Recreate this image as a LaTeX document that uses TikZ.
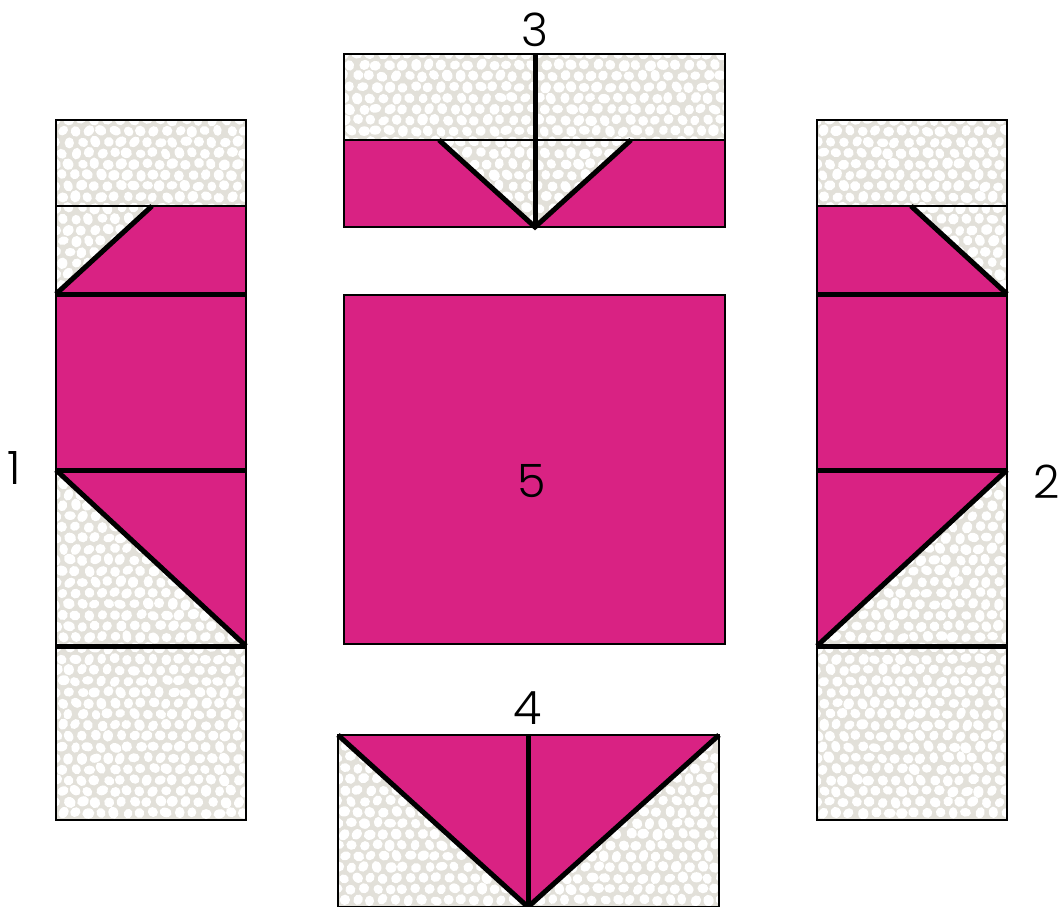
\documentclass[tikz,border=0pt]{standalone}
\usepackage{fontspec}
\setmainfont{Poppins Light}
\usepackage{tikz}

\definecolor{berry}{HTML}{D92283}
\definecolor{speck}{HTML}{E2E0D9}

% mottled cloth: clip path, then x0, y0, x1, y1 of the area to cover
\newcommand{\fabricpatch}[5]{%
  \begin{scope}
    \clip #1;
    \fill[speck] (#2,#3) rectangle (#4,#5);
    \pgfmathsetseed{#2+#3}
    \foreach \cellx in {#2,\the\numexpr#2+13\relax,...,#4} {
      \foreach \celly in {#3,\the\numexpr#3+11\relax,...,#5} {
        \pgfmathsetmacro{\blobx}{\cellx+1.3*rand+mod(\celly-#3,22)*0.59}
        \pgfmathsetmacro{\bloby}{\celly+1.0*rand}
        \pgfmathsetmacro{\blobw}{5.5+0.7*rand}
        \pgfmathsetmacro{\blobh}{4.7+0.5*rand}
        \pgfmathsetmacro{\blobr}{90*rand}
        \fill[white, rotate around={\blobr:(\blobx,\bloby)}] (\blobx,\bloby) ellipse [x radius=\blobw pt, y radius=\blobh pt];
      }
    }
  \end{scope}
}

\begin{document}
\begin{tikzpicture}[
  x=1pt, y=-1pt,
  piece/.style={fill=berry},
  edge/.style={draw=black, line width=2.6pt, line join=miter},
  thin seam/.style={draw=black, line width=2.2pt},
  seam/.style={draw=black, line width=5pt},
  num/.style={font=\fontsize{46}{46}\selectfont, text=black, inner sep=0pt}
]
\useasboundingbox (0,0) rectangle (1060,907);

% left column
\fabricpatch{(56,120) rectangle (246,820)}{56}{120}{246}{820}
\fill[piece] (56,294) -- (152,206) -- (246,206) -- (246,646) -- (56,470) -- cycle;
\draw[thin seam] (56,206) -- (246,206);
\draw[seam] (56,294) -- (152,206);
\draw[seam] (56,294) -- (246,294);
\draw[seam] (56,470) -- (246,470);
\draw[seam] (56,470) -- (246,646);
\draw[seam] (56,646) -- (246,646);
\draw[edge] (56,120) rectangle (246,820);

% right column
\fabricpatch{(817,120) rectangle (1007,820)}{817}{120}{1007}{820}
\fill[piece] (1007,294) -- (911,206) -- (817,206) -- (817,646) -- (1007,470) -- cycle;
\draw[thin seam] (817,206) -- (1007,206);
\draw[seam] (1007,294) -- (911,206);
\draw[seam] (817,294) -- (1007,294);
\draw[seam] (817,470) -- (1007,470);
\draw[seam] (1007,470) -- (817,646);
\draw[seam] (817,646) -- (1007,646);
\draw[edge] (817,120) rectangle (1007,820);

% top strip
\fabricpatch{(344,54) rectangle (725,227)}{344}{54}{725}{227}
\fill[piece] (344,140) -- (439,140) -- (535,227) -- (631,140) -- (725,140) -- (725,227) -- (344,227) -- cycle;
\draw[thin seam] (344,140) -- (725,140);
\draw[seam] (439,140) -- (535,227) -- (631,140);
\draw[seam] (535,54) -- (535,227);
\draw[edge] (344,54) rectangle (725,227);

% centre square
\draw[edge, piece] (344,295) rectangle (725,644);

% bottom strip
\fabricpatch{(338,735) rectangle (719,907)}{338}{735}{719}{907}
\fill[piece] (338,735) -- (719,735) -- (528,907) -- cycle;
\draw[seam] (338,735) -- (528,907) -- (719,735);
\draw[seam] (528,735) -- (528,907);
\draw[edge] (338,907) -- (338,735) -- (719,735) -- (719,907);
\draw[edge] (338,907) -- (719,907);

\node[num] (num1) at (14,468) {1};
\node[num] (num2) at (1047,482) {2};
\node[num] (num3) at (535,30) {3};
\node[num] (num4) at (528,708) {4};
\node[num] (num5) at (532,481) {5};
\end{tikzpicture}
\end{document}
